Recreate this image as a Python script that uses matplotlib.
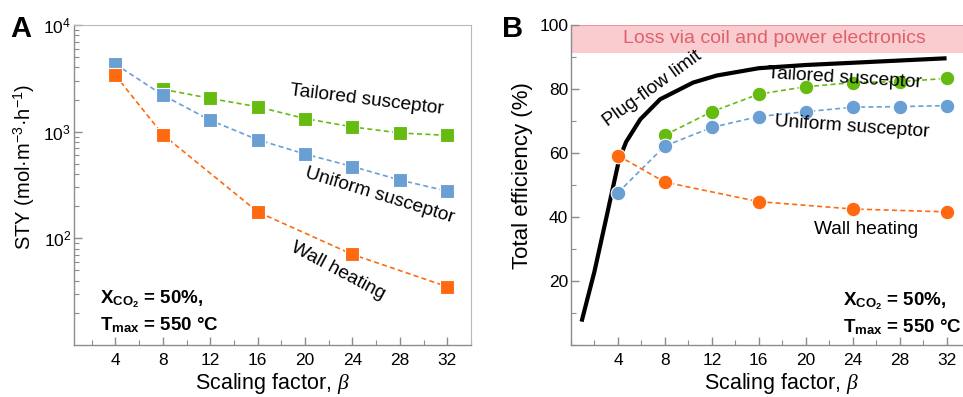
import matplotlib
matplotlib.use("Agg")
import matplotlib.pyplot as plt
from matplotlib.ticker import MultipleLocator, LogLocator, NullFormatter

plt.rcParams['font.family'] = ['Liberation Sans', 'DejaVu Sans']
plt.rcParams['mathtext.fontset'] = 'custom'
plt.rcParams['mathtext.rm'] = 'Liberation Sans'
plt.rcParams['mathtext.bf'] = 'Liberation Sans:bold'
plt.rcParams['mathtext.it'] = 'Liberation Serif:italic'

# data -------------------------------------------------------------
beta = [4, 8, 12, 16, 20, 24, 28, 32]
beta_tail = [8, 12, 16, 20, 24, 28, 32]
beta_wall = [4, 8, 16, 24, 32]

sty_uniform = [4290, 2200, 1280, 840, 617, 471, 352, 277]
sty_tailored = [2500, 2050, 1710, 1327, 1107, 972, 923]
sty_wall = [3370, 937, 177, 70.6, 35.2]

eff_uniform = [47.6, 62.2, 68.0, 71.4, 72.9, 74.3, 74.5, 74.8]
eff_tailored = [65.6, 72.9, 78.4, 80.7, 82.0, 82.3, 83.3]
eff_wall = [59.2, 50.9, 44.8, 42.5, 41.6]

plug_beta = [0.9, 2, 3, 3.5, 4.1, 4.7, 5.9, 7.6, 10.4, 12.4, 16, 20, 24, 28, 32]
plug_eff = [7.3, 23, 39.6, 48, 58, 63.5, 70.5, 76.8, 82.0, 84.2, 86.5, 87.5, 88.2, 88.9, 89.6]

loss_band = (91.3, 100)

blue = '#6a9fd4'
green = '#66bb11'
orange = '#ff6a10'
spine = '#8c8c8c'

fig = plt.figure(figsize=(9.63, 3.97), dpi=100)
axA = fig.add_axes([74/963, 52/397, 397/963, 320/397])
axB = fig.add_axes([571/963, 52/397, 392/963, 320/397])


def style(ax):
    for s in ['left', 'bottom']:
        ax.spines[s].set_color(spine)
        ax.spines[s].set_linewidth(1.0)
    ax.tick_params(which='both', direction='in', color=spine, labelsize=12.5)
    ax.tick_params(which='major', length=6, width=1)
    ax.tick_params(which='minor', length=3.5, width=0.8)
    ax.tick_params(axis='x', pad=6)
    ax.tick_params(axis='y', pad=2)
    ax.xaxis.set_major_locator(MultipleLocator(4))
    ax.xaxis.set_minor_locator(MultipleLocator(2))
    ax.set_xticks([4, 8, 12, 16, 20, 24, 28, 32])


mk = dict(markeredgecolor='white', markeredgewidth=0.8, linestyle=(0, (3, 2)), linewidth=1.2)
bold = dict(fontsize=13.5, fontweight='bold', va='baseline')

# panel A ----------------------------------------------------------
axA.set_yscale('log')
axA.plot(beta_tail, sty_tailored, marker='s', ms=9.5, color=green, **mk)
axA.plot(beta, sty_uniform, marker='s', ms=9.5, color=blue, **mk)
axA.plot(beta_wall, sty_wall, marker='s', ms=9.5, color=orange, **mk)
axA.set_xlim(0.5, 34)
axA.set_ylim(10, 1e4)
style(axA)
axA.yaxis.set_major_locator(LogLocator(base=10, numticks=10))
axA.yaxis.set_minor_locator(LogLocator(base=10, subs=range(2, 10), numticks=10))
axA.yaxis.set_minor_formatter(NullFormatter())
axA.set_yticks([1e2, 1e3, 1e4])
for s in ['top', 'right']:
    axA.spines[s].set_color('#b8b8b8')
axA.set_xlabel(r'Scaling factor, $\beta$', fontsize=15.5)
axA.xaxis.set_label_coords(0.5, -0.082)
axA.set_ylabel(r'STY (mol·m$^{-3}$·h$^{-1}$)', fontsize=14.5)
axA.yaxis.set_label_coords(-0.093, 0.556)

axA.text(25.2, 2000, 'Tailored susceptor', fontsize=13.8, rotation=-7, ha='center', va='center')
axA.text(26.3, 250, 'Uniform susceptor', fontsize=13.8, rotation=-17, ha='center', va='center')
axA.text(22.8, 50, 'Wall heating', fontsize=13.8, rotation=-28, ha='center', va='center')
axA.text(0.065, 0.131, r'$\mathbf{X}_{\mathbf{CO_2}}$ = 50%,', transform=axA.transAxes, **bold)
axA.text(0.065, 0.047, r'$\mathbf{T}_{\mathbf{max}}$ = 550 °C', transform=axA.transAxes, **bold)

# panel B ----------------------------------------------------------
axB.axhspan(loss_band[0], loss_band[1], facecolor='#f9ccd0', edgecolor='none', zorder=0)
axB.axhline(loss_band[1], color='#f0939b', lw=1.5, zorder=1)
axB.plot(plug_beta, plug_eff, color='black', lw=3, solid_capstyle='butt', zorder=2)
axB.plot(beta_tail, eff_tailored, marker='o', ms=10.5, color=green, zorder=3, **mk)
axB.plot(beta, eff_uniform, marker='o', ms=10.5, color=blue, zorder=3, **mk)
axB.plot(beta_wall, eff_wall, marker='o', ms=10.5, color=orange, zorder=4, **mk)
axB.set_xlim(0, 33.4)
axB.set_ylim(0, 100)
style(axB)
axB.set_yticks([20, 40, 60, 80, 100])
axB.yaxis.set_minor_locator(MultipleLocator(10))
axB.spines['top'].set_visible(False)
axB.spines['right'].set_visible(False)
axB.set_xlabel(r'Scaling factor, $\beta$', fontsize=15.5)
axB.xaxis.set_label_coords(0.538, -0.082)
axB.set_ylabel('Total efficiency (%)', fontsize=16)
axB.yaxis.set_label_coords(-0.097, 0.53)

axB.text(17.3, 95.8, 'Loss via coil and power electronics', fontsize=14, color='#e0606c',
         ha='center', va='center')
axB.text(6.9, 80.0, 'Plug-flow limit', fontsize=13.8, rotation=36, ha='center', va='center')
axB.text(23.3, 83.3, 'Tailored susceptor', fontsize=13.8, rotation=-3.5, ha='center', va='center')
axB.text(23.9, 68.3, 'Uniform susceptor', fontsize=13.8, rotation=-4, ha='center', va='center')
axB.text(25.1, 36.2, 'Wall heating', fontsize=13.8, ha='center', va='center')
axB.text(0.694, 0.125, r'$\mathbf{X}_{\mathbf{CO_2}}$ = 50%,', transform=axB.transAxes, **bold)
axB.text(0.694, 0.041, r'$\mathbf{T}_{\mathbf{max}}$ = 550 °C', transform=axB.transAxes, **bold)

fig.text(10/963, 1 - 37/397, 'A', fontsize=21, fontweight='bold', va='baseline')
fig.text(502/963, 1 - 37/397, 'B', fontsize=21, fontweight='bold', va='baseline')

fig.savefig('out.png', dpi=100)
